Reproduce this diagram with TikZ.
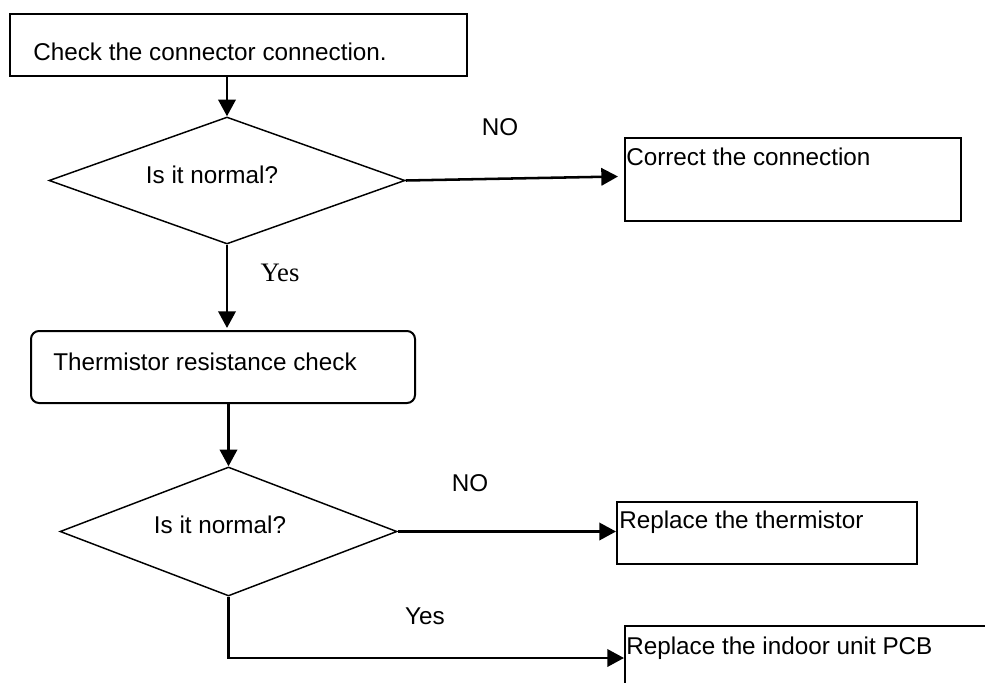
\documentclass[tikz,border=0pt]{standalone}
\usepackage{fontspec}
\setmainfont{Liberation Sans}
\newfontfamily\serifyes{Liberation Serif}
\usetikzlibrary{shapes.geometric,arrows.meta,calc}
\newdimen\pxu \pxu=0.75pt
\begin{document}
\begin{tikzpicture}[x=0.75pt,y=-0.75pt,
  box/.style={draw, line width=1.5pt, rectangle, inner sep=0pt, anchor=north west},
  dia/.style={draw, diamond, line width=1.1pt, inner sep=0pt},
  lbl/.style={font=\fontsize{18.2}{21}\selectfont, inner sep=0pt, anchor=west},
  arr/.style={line width=1.9pt, -{Triangle[length=12.5pt,width=13pt]}}]
\useasboundingbox (0,0) rectangle (985,682);
\fill[white] (0,0) rectangle (985,682);
% top box
\node[box, minimum width=457\pxu, minimum height=62\pxu] (b1) at (9,13) {};
\node[lbl] (t1) at (33,52) {Check the connector connection.};
% diamond 1
\node[dia, minimum width=356\pxu, minimum height=127\pxu] (d1) at (227,180.5) {};
\node[lbl, anchor=center] (t2) at (212,175) {Is it normal?};
% correct box
\node[box, minimum width=336\pxu, minimum height=83\pxu] (c1) at (624,137) {};
\node[lbl] (t3) at (626,157) {Correct the connection};
\node[lbl, anchor=center] (no1) at (500,127) {NO};
\coordinate (c1in) at ($(c1.west |- d1.east)+(-6,-4)$);
% thermistor check
\node[box, rounded corners=8\pxu, minimum width=384\pxu, minimum height=72\pxu] (b2) at (30,330) {};
\node[lbl] (t4) at (53,362) {Thermistor resistance check};
\node[font=\serifyes\fontsize{20}{23}\selectfont, inner sep=0pt] (yes1) at (280,273) {Yes};
% diamond 2
\node[dia, minimum width=337\pxu, minimum height=129\pxu] (d2) at (228.5,531.5) {};
\node[lbl, anchor=center] (t5) at (220,525) {Is it normal?};
% replace thermistor
\node[box, minimum width=300\pxu, minimum height=62\pxu] (r1) at (616,501) {};
\node[lbl] (t6) at (619,522) {Replace the thermistor};
\node[lbl, anchor=center] (no2) at (470,483) {NO};
% replace PCB (cut by the page edge)
\begin{scope}
\clip (0,0) rectangle (985,682);
\node[box, minimum width=400\pxu, minimum height=120\pxu] (r2) at (624,625) {};
\end{scope}
\node[lbl] (t7) at (626,648) {Replace the indoor unit PCB};
\node[lbl, anchor=center] (yes2) at (425,616) {Yes};
\coordinate (r2in) at ($(r2.north west)+(0,33)$);
% connectors
\draw[arr] (b1.south -| d1.north) -- (d1.north);
\draw[arr] (d1.east) -- (c1in);
\draw[arr, shorten >=2\pxu] (d1.south) -- (b2.north -| d1.south);
\draw[arr] (b2.south -| d2.north) -- (d2.north);
\draw[arr] (d2.east) -- (r1.west |- d2.east);
\draw[arr] (d2.south) |- (r2in);
\end{tikzpicture}
\end{document}
